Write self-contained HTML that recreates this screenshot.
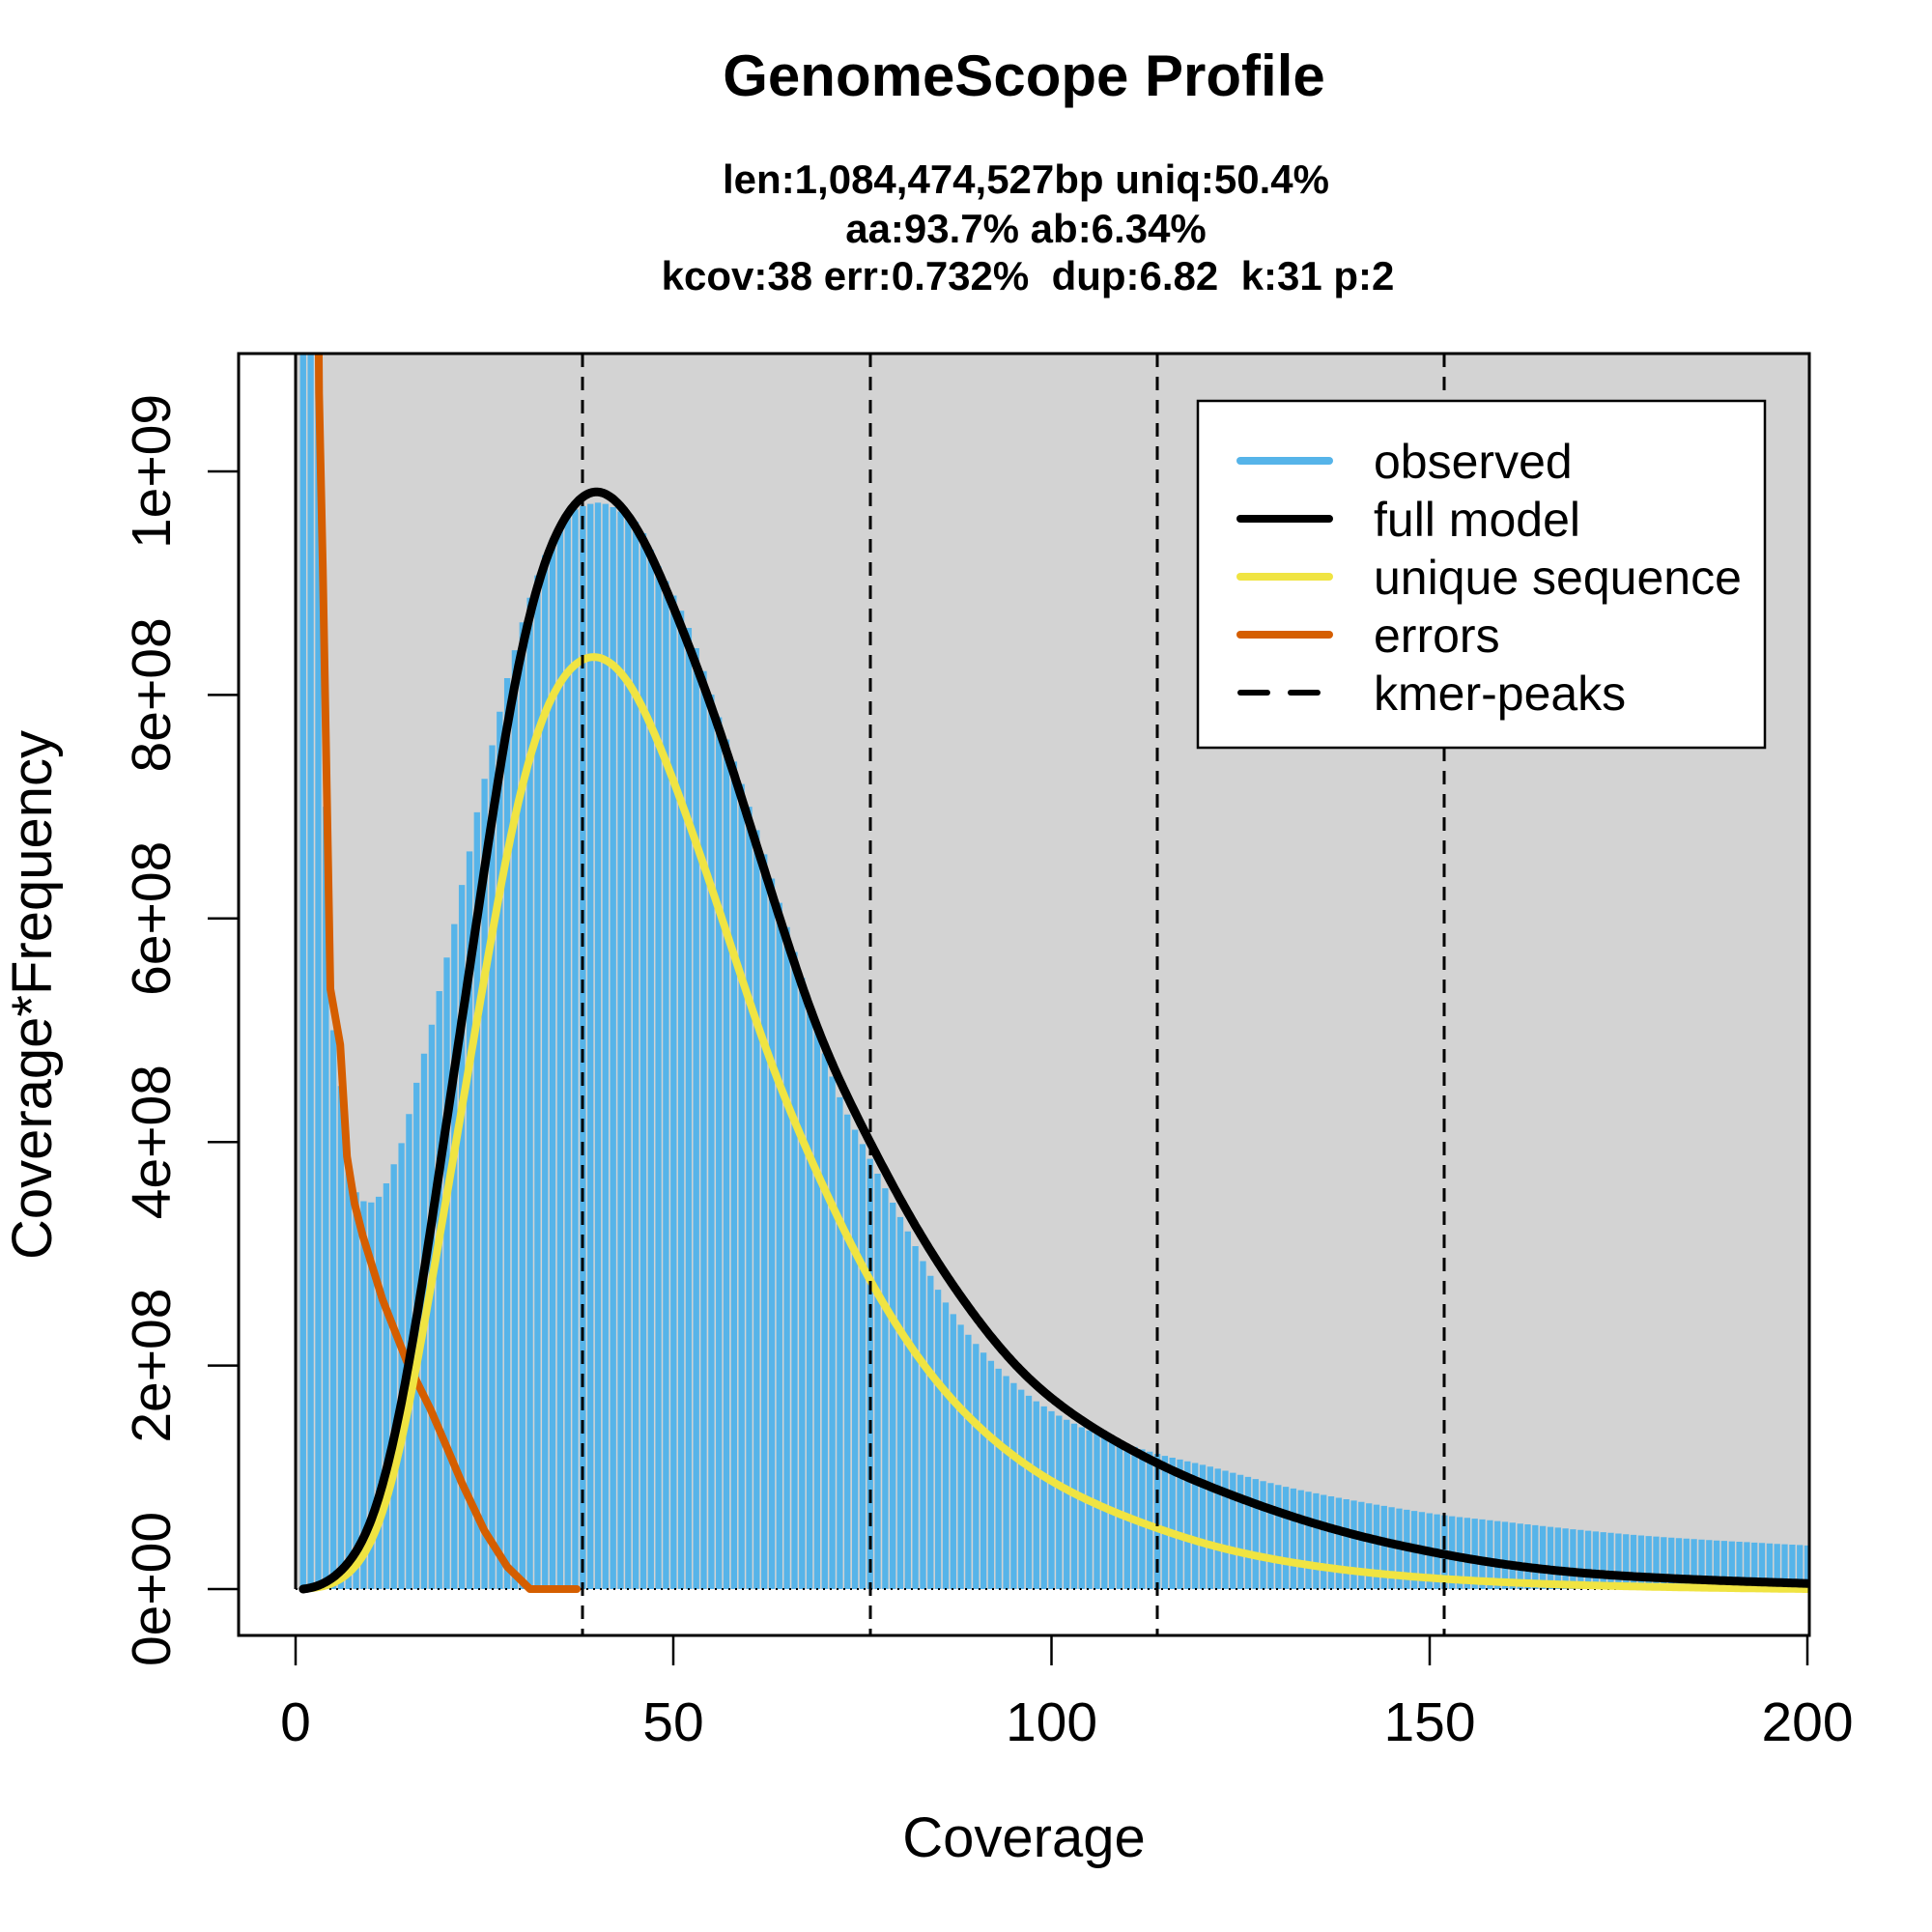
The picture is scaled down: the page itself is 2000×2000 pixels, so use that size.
<!DOCTYPE html>
<html><head><meta charset="utf-8"><style>
html,body{margin:0;padding:0;background:#fff;}
svg{display:block;font-family:"Liberation Sans",Arial,sans-serif;}
</style></head><body>
<svg id="s" width="2000" height="2000" viewBox="0 0 2000 2000" xmlns="http://www.w3.org/2000/svg">
<defs><clipPath id="pc"><rect x="247" y="366" width="1626" height="1327"/></clipPath></defs>
<rect width="2000" height="2000" fill="#fff"/>
<rect x="306" y="366" width="1567" height="1279" fill="#d3d3d3"/>
<g id="bars" clip-path="url(#pc)"></g>
<line x1="306" y1="366" x2="306" y2="1645" stroke="#000" stroke-width="3"/>
<line x1="306" y1="1645" x2="1873" y2="1645" stroke="#000" stroke-width="2" stroke-dasharray="2 5"/>
<g id="curves" clip-path="url(#pc)" fill="none" stroke-linejoin="round" stroke-linecap="round"></g>
<g stroke="#000" stroke-width="3" stroke-dasharray="14 10">
<line x1="603" y1="366" x2="603" y2="1693"/>
<line x1="901" y1="366" x2="901" y2="1693"/>
<line x1="1198" y1="366" x2="1198" y2="1693"/>
<line x1="1495" y1="366" x2="1495" y2="1693"/>
</g>
<rect x="247" y="366" width="1626" height="1327" fill="none" stroke="#000" stroke-width="3"/>
<g stroke="#000" stroke-width="2.5">
<line x1="306" y1="1693" x2="306" y2="1724"/><line x1="697" y1="1693" x2="697" y2="1724"/>
<line x1="1088.5" y1="1693" x2="1088.5" y2="1724"/><line x1="1480" y1="1693" x2="1480" y2="1724"/>
<line x1="1871" y1="1693" x2="1871" y2="1724"/>
<line x1="215" y1="1645" x2="247" y2="1645"/><line x1="215" y1="1413.6" x2="247" y2="1413.6"/>
<line x1="215" y1="1182.2" x2="247" y2="1182.2"/><line x1="215" y1="950.8" x2="247" y2="950.8"/>
<line x1="215" y1="719.4" x2="247" y2="719.4"/><line x1="215" y1="488" x2="247" y2="488"/>
</g>
<g font-size="57" text-anchor="middle" fill="#000">
<text x="306" y="1802">0</text><text x="697" y="1802">50</text><text x="1088.5" y="1802">100</text>
<text x="1480" y="1802">150</text><text x="1871" y="1802">200</text>
<text transform="translate(176,1645) rotate(-90)">0e+00</text>
<text transform="translate(176,1413.6) rotate(-90)">2e+08</text>
<text transform="translate(176,1182.2) rotate(-90)">4e+08</text>
<text transform="translate(176,950.8) rotate(-90)">6e+08</text>
<text transform="translate(176,719.4) rotate(-90)">8e+08</text>
<text transform="translate(176,488) rotate(-90)">1e+09</text>
<text x="1060" y="1922" font-size="58">Coverage</text>
<text transform="translate(53,1030) rotate(-90)" font-size="58">Coverage*Frequency</text>
</g>
<g text-anchor="middle" font-weight="bold" fill="#000">
<text x="1060" y="99" font-size="60">GenomeScope Profile</text>
<text x="1062" y="200" font-size="42">len:1,084,474,527bp uniq:50.4%</text>
<text x="1062" y="251" font-size="42">aa:93.7% ab:6.34%</text>
<text x="1064" y="300" font-size="42" xml:space="preserve">kcov:38 err:0.732%  dup:6.82  k:31 p:2</text>
</g>
<rect x="1240" y="415" width="587" height="359" fill="#fff" stroke="#000" stroke-width="2.5"/>
<g stroke-width="8" stroke-linecap="round">
<line x1="1284" y1="477" x2="1376" y2="477" stroke="#56B4E9"/>
<line x1="1284" y1="537" x2="1376" y2="537" stroke="#000"/>
<line x1="1284" y1="597" x2="1376" y2="597" stroke="#F0E442"/>
<line x1="1284" y1="657" x2="1376" y2="657" stroke="#D55E00"/>
<line x1="1284" y1="717" x2="1312" y2="717" stroke="#000" stroke-width="6"/>
<line x1="1336" y1="717" x2="1364" y2="717" stroke="#000" stroke-width="6"/>
</g>
<g font-size="50" fill="#000">
<text x="1422" y="495">observed</text>
<text x="1422" y="555">full model</text>
<text x="1422" y="615">unique sequence</text>
<text x="1422" y="675">errors</text>
<text x="1422" y="735">kmer-peaks</text>
</g>
</svg>
<script>
(function(){
var NS="http://www.w3.org/2000/svg";
function X(c){return 306+c*7.825;}
function Y(v){return 1645-v*1157;}
var EPS=0.003;
function makePchip(pts){
  var n=pts.length,xs=[],ys=[],h=[],dl=[],m=[];
  for(var i=0;i<n;i++){xs.push(pts[i][0]);ys.push(Math.log(pts[i][1]+EPS));}
  for(i=0;i<n-1;i++){h.push(xs[i+1]-xs[i]);dl.push((ys[i+1]-ys[i])/h[i]);}
  m[0]=dl[0];m[n-1]=dl[n-2];
  for(i=1;i<n-1;i++){
    if(dl[i-1]*dl[i]<=0)m[i]=0;
    else{var w1=2*h[i]+h[i-1],w2=h[i]+2*h[i-1];m[i]=(w1+w2)/(w1/dl[i-1]+w2/dl[i]);}
  }
  return function(c){
    if(c<=xs[0])return pts[0][1];
    if(c>=xs[n-1])return pts[n-1][1];
    var k=0;while(c>xs[k+1])k++;
    var t=(c-xs[k])/h[k],t2=t*t,t3=t2*t;
    var y=(2*t3-3*t2+1)*ys[k]+(t3-2*t2+t)*h[k]*m[k]+(-2*t3+3*t2)*ys[k+1]+(t3-t2)*h[k]*m[k+1];
    return Math.max(0,Math.exp(y)-EPS);
  };
}
var black=[[1,0],[4,0.005],[7,0.02],[10,0.053],[12,0.097],[14,0.16],[16,0.235],[18,0.325],[20,0.42],[22.7,0.536],[26.6,0.717],[30.8,0.871],[34.9,0.951],[39.7,0.984],[45,0.95],[48.1,0.906],[55.5,0.778],[62.8,0.624],[69.5,0.49],[76,0.398],[86.6,0.274],[98,0.181],[114,0.112],[126.5,0.077],[146,0.039],[172.8,0.013],[200,0.005]];
var yel=[[1,0],[5,0.004],[9,0.025],[12,0.07],[14,0.125],[16.5,0.215],[19.8,0.342],[25.1,0.549],[29.5,0.708],[34.4,0.805],[39.2,0.834],[43.2,0.818],[48.1,0.752],[55.5,0.615],[62.8,0.469],[70,0.355],[76,0.274],[86.6,0.17],[98,0.104],[114,0.054],[124,0.034],[152,0.009],[172.8,0.003],[200,0]];
var err=[[2.9,1.25],[3.1,1.07],[3.6,0.913],[4.6,0.537],[5.9,0.487],[6.8,0.387],[7.8,0.345],[8.9,0.316],[11.5,0.259],[14.7,0.204],[17.9,0.16],[20,0.127],[22,0.095],[25,0.052],[28,0.02],[31,0],[37.2,0]];
var obs={1:3,2:3,3:3,4:0.7,5:0.5,6:0.45,7:0.38,8:0.355,9:0.347,10:0.346,11:0.351,12:0.363,13:0.38,14:0.399,15:0.425,16:0.453,17:0.479,18:0.505,19:0.535,20:0.565,21:0.595,22:0.63,23:0.66,24:0.695,25:0.725,26:0.755,27:0.785,28:0.815,29:0.84,30:0.865,31:0.887,32:0.907,33:0.925,34:0.94,35:0.952,36:0.96,37:0.966,38:0.969,39:0.971,40:0.972,41:0.971,42:0.968};
var obsT=makePchip([[42,0.968],[45,0.955],[48,0.915],[52,0.86],[55.5,0.79],[60,0.70],[62.8,0.64],[66,0.57],[69.5,0.49],[72,0.44],[76,0.385],[81,0.32],[86.6,0.25],[92.3,0.202],[98,0.168],[103.6,0.146],[109.3,0.131],[114,0.121],[120.7,0.11],[132,0.09],[143.5,0.075],[152,0.066],[158.8,0.061],[178,0.048],[200,0.039]]);
var bars=document.getElementById("bars"),d="";
for(var k=1;k<=200;k++){
  var v=obs[k]!==undefined?obs[k]:obsT(k);
  d+="M"+X(k).toFixed(1)+" 1645V"+Y(v).toFixed(1);
}
var p=document.createElementNS(NS,"path");
p.setAttribute("d",d);p.setAttribute("stroke","#56B4E9");p.setAttribute("stroke-width","6.3");
bars.appendChild(p);
var cur=document.getElementById("curves");
function add(s,col,w){
  var e=document.createElementNS(NS,"path");
  e.setAttribute("d",s);e.setAttribute("stroke",col);e.setAttribute("stroke-width",w);
  cur.appendChild(e);
}
function smooth(pts,col,w,peakScale){
  var f=makePchip(pts),xs=[],ys=[],step=0.25;
  for(var c=pts[0][0];c<=200.001;c+=step){xs.push(c);ys.push(f(c));}
  var n=ys.length,out=[],sig=2.0/step,R=Math.ceil(3*sig);
  for(var i=0;i<n;i++){
    var r=Math.min(R,i,n-1-i),sw=0,sv=0;
    for(var j=-r;j<=r;j++){var wt=Math.exp(-j*j/(2*sig*sig));sw+=wt;sv+=wt*ys[i+j];}
    out.push(sv/sw);
  }
  var s="";
  for(i=0;i<n;i++){s+=(i?"L":"M")+X(xs[i]).toFixed(1)+" "+Y(out[i]*peakScale).toFixed(1);}
  add(s,col,w);
}
var s="";for(var i=0;i<err.length;i++)s+=(i?"L":"M")+X(err[i][0]).toFixed(1)+" "+Y(err[i][1]).toFixed(1);
add(s,"#D55E00",8);
smooth(yel,"#F0E442",8,1.006);
smooth(black,"#000",9,1.004);
})();
</script>
</body></html>
